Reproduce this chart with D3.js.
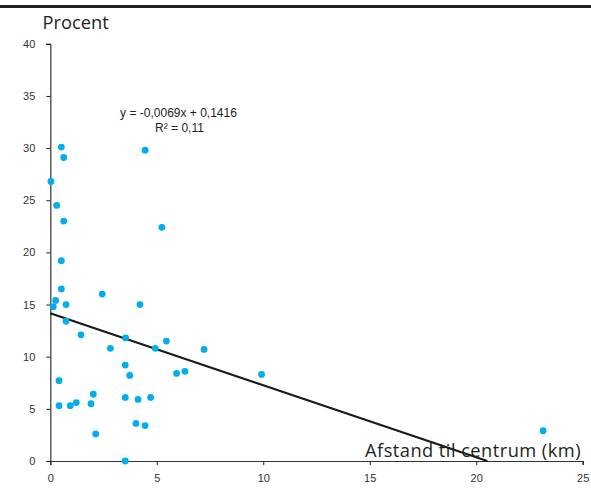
<!DOCTYPE html>
<html>
<head>
<meta charset="utf-8">
<script src="https://cdn.jsdelivr.net/npm/d3@7"></script>
<style>
  html, body { margin: 0; padding: 0; background: #fff; }
  svg { display: block; }
</style>
</head>
<body>
<svg id="chart" width="591" height="492"></svg>
<script>
// Distance to the centre (km) and share (percent) per area
const distanceKm = [
  0.03, 0.52, 0.63, 4.45, 0.30, 0.63, 5.24, 0.52, 0.52, 2.44,
  0.25, 0.14, 0.74, 4.21, 0.74, 1.44, 3.54, 5.45, 2.82, 4.93,
  7.22, 3.52, 3.73, 5.93, 6.32, 9.92, 0.41, 2.02, 4.71, 3.52,
  4.12, 0.41, 0.94, 1.22, 1.91, 4.02, 4.45, 2.13, 3.52, 23.14
];
const percentValues = [
  26.8, 30.1, 29.1, 29.8, 24.5, 23.0, 22.4, 19.2, 16.5, 16.0,
  15.4, 14.8, 15.0, 15.0, 13.4, 12.1, 11.8, 11.5, 10.8, 10.8,
  10.7, 9.2, 8.2, 8.4, 8.6, 8.3, 7.7, 6.4, 6.1, 6.1,
  5.9, 5.3, 5.3, 5.6, 5.5, 3.6, 3.4, 2.6, 0.0, 2.9
];
const xTicks = [0, 5, 10, 15, 20, 25];
const yTicks = [0, 5, 10, 15, 20, 25, 30, 35, 40];

// Linear trend (fractions): y = slope * x + intercept
const trendSlope = -0.0069;
const trendIntercept = 0.1416;
const equationLines = ["y = -0,0069x + 0,1416", "R² = 0,11"];

const yTitle = "Procent";
const xTitle = "Afstand til centrum (km)";

const svg = d3.select("#chart");

const x = d3.scaleLinear().domain([0, 25]).range([50.3, 582.7]);
const y = d3.scaleLinear().domain([0, 40]).range([461, 43.8]);

// Heavy rule along the top
svg.append("rect")
  .attr("x", 0).attr("y", 5)
  .attr("width", 591).attr("height", 3)
  .attr("fill", "#231f20");

// Axes
const tickFont = "'Liberation Sans', Arial, sans-serif";

const yAxis = svg.append("g")
  .attr("transform", `translate(${x(0)},0)`)
  .call(d3.axisLeft(y).tickValues(yTicks).tickSize(4).tickPadding(11).tickFormat(d3.format("d")));
const xAxis = svg.append("g")
  .attr("transform", `translate(0,${y(0)})`)
  .call(d3.axisBottom(x).tickValues(xTicks).tickSize(4).tickPadding(9.5).tickFormat(d3.format("d")));

[xAxis, yAxis].forEach(g => {
  g.select(".domain").attr("stroke", "#333").attr("stroke-width", 1.2);
  g.selectAll(".tick line").attr("stroke", "#231f20").attr("stroke-width", 1);
  g.selectAll(".tick text")
    .attr("fill", "#333")
    .style("font-family", tickFont)
    .style("font-size", "11px");
});

// Trend line, from x = 0 to where it reaches 0 %
const xEnd = -trendIntercept / trendSlope;
const trendPct = d => (trendSlope * d + trendIntercept) * 100;
svg.append("line")
  .attr("x1", x(0)).attr("y1", y(trendPct(0)))
  .attr("x2", x(xEnd)).attr("y2", y(trendPct(xEnd)))
  .attr("stroke", "#1a1a1a")
  .attr("stroke-width", 2.2);

// Points
svg.append("g")
  .selectAll("circle")
  .data(distanceKm.map((d, i) => ({ d, p: percentValues[i] })))
  .join("circle")
  .attr("cx", o => x(o.d))
  .attr("cy", o => y(o.p))
  .attr("r", 3.4)
  .attr("fill", "#00aeef");

// Equation labels
svg.append("text")
  .attr("x", 178.5).attr("y", 116.5)
  .attr("text-anchor", "middle")
  .style("font-family", tickFont)
  .style("font-size", "12px")
  .attr("fill", "#231f20")
  .text(equationLines[0]);
svg.append("text")
  .attr("x", 179.5).attr("y", 131.5)
  .attr("text-anchor", "middle")
  .style("font-family", tickFont)
  .style("font-size", "12px")
  .attr("fill", "#231f20")
  .text(equationLines[1]);

// Axis titles
const titleFont = "'Open Sans', 'Noto Sans', sans-serif";
svg.append("text")
  .attr("x", 42.5).attr("y", 29)
  .style("font-family", titleFont)
  .style("font-size", "18.3px")
  .attr("fill", "#231f20")
  .text(yTitle);
svg.append("text")
  .attr("x", 581).attr("y", 456.5)
  .attr("text-anchor", "end")
  .style("font-family", titleFont)
  .style("font-size", "18.3px")
  .style("letter-spacing", "0.45px")
  .attr("fill", "#231f20")
  .text(xTitle);
</script>
</body>
</html>
